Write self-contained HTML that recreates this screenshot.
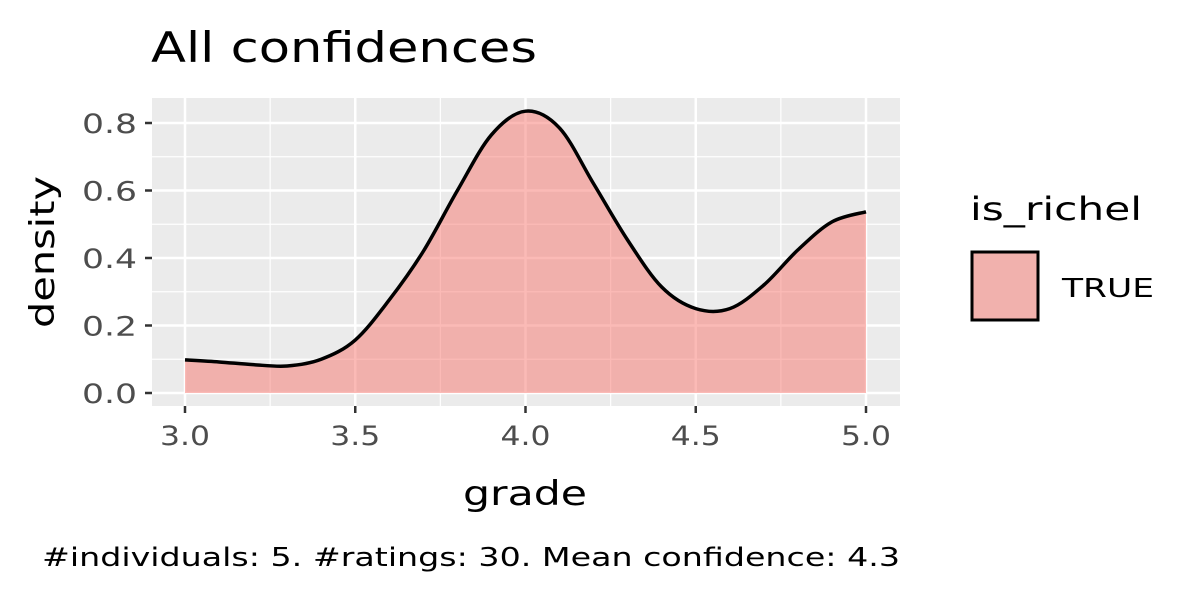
<!DOCTYPE html>
<html><head><meta charset="utf-8"><style>
body{margin:0;background:#fff;width:1200px;height:600px;overflow:hidden;font-family:"DejaVu Sans","Liberation Sans",sans-serif}
svg text{font-family:"DejaVu Sans","Liberation Sans",sans-serif}
</style></head><body>
<svg id="chart" width="1200" height="600" xmlns="http://www.w3.org/2000/svg">
<text x="151" y="62" font-size="42" fill="#000" textLength="386" lengthAdjust="spacingAndGlyphs">All confidences</text>
<rect x="152" y="98" width="748" height="308" fill="#ebebeb"/>
<g id="grid"></g>
<g id="marks"></g>
<g id="axes"></g>
<text x="525" y="505" font-size="34" text-anchor="middle" fill="#000" textLength="124" lengthAdjust="spacingAndGlyphs">grade</text>
<text transform="translate(54,252) rotate(-90)" font-size="34" text-anchor="middle" fill="#000" textLength="152" lengthAdjust="spacingAndGlyphs">density</text>
<text x="970" y="220" font-size="32" fill="#000" textLength="172" lengthAdjust="spacingAndGlyphs">is_richel</text>
<rect x="972" y="252" width="66" height="68" fill="#f1b1ad" stroke="#000" stroke-width="3"/>
<text x="1062" y="297" font-size="26" fill="#000" textLength="92" lengthAdjust="spacingAndGlyphs">TRUE</text>
<text x="42" y="566" font-size="26" fill="#000" textLength="858" lengthAdjust="spacingAndGlyphs">#individuals: 5. #ratings: 30. Mean confidence: 4.3</text>
</svg>
<script>
const xTicks=[3.0,3.5,4.0,4.5,5.0];
const yTicks=[0.0,0.2,0.4,0.6,0.8];
const gradeValues=[3.0,3.1,3.2,3.3,3.4,3.5,3.6,3.7,3.8,3.9,4.0,4.1,4.2,4.3,4.4,4.5,4.6,4.7,4.8,4.9,5.0];
const densityValues=[0.098,0.092,0.084,0.080,0.100,0.157,0.276,0.42,0.60,0.765,0.835,0.785,0.62,0.453,0.314,0.250,0.250,0.320,0.424,0.507,0.537];
const NS="http://www.w3.org/2000/svg";
const X=v=>185+(v-3)*340.5, Y=v=>393-v*337.5;
function el(t,a,p){const e=document.createElementNS(NS,t);for(const k in a)e.setAttribute(k,a[k]);p.appendChild(e);return e;}
const grid=document.getElementById('grid'),marks=document.getElementById('marks'),axes=document.getElementById('axes');
for(let i=0;i<xTicks.length-1;i++){const m=(xTicks[i]+xTicks[i+1])/2;
const g=el('line',{x1:X(m),x2:X(m),y1:98,y2:406,stroke:'#fff','stroke-width':1.2},grid);
}
for(let i=0;i<yTicks.length-1;i++){const m=(yTicks[i]+yTicks[i+1])/2;
const g=el('line',{x1:152,x2:900,y1:Y(m),y2:Y(m),stroke:'#fff','stroke-width':1.2},grid);
}
xTicks.forEach(v=>{const g=el('line',{x1:X(v),x2:X(v),y1:98,y2:406,stroke:'#fff','stroke-width':2.5},grid);

const t=el('line',{x1:X(v),x2:X(v),y1:406,y2:413,stroke:'#333','stroke-width':2.5},axes);

const l=el('text',{x:X(v),y:445,'font-size':27,'text-anchor':'middle',fill:'#4d4d4d',textLength:50,lengthAdjust:'spacingAndGlyphs'},axes);l.textContent=v.toFixed(1);
});
yTicks.forEach(v=>{const g=el('line',{x1:152,x2:900,y1:Y(v),y2:Y(v),stroke:'#fff','stroke-width':2.5},grid);

const t=el('line',{x1:145,x2:152,y1:Y(v),y2:Y(v),stroke:'#333','stroke-width':2.5},axes);

const l=el('text',{x:137,y:Y(v)+10,'font-size':27,'text-anchor':'end',fill:'#4d4d4d',textLength:55,lengthAdjust:'spacingAndGlyphs'},axes);l.textContent=v.toFixed(1);
});
const P=gradeValues.map((g,i)=>[X(g),Y(densityValues[i])]);
let d='M'+P[0][0]+','+P[0][1];
for(let i=0;i<P.length-1;i++){const p0=P[Math.max(0,i-1)],p1=P[i],p2=P[i+1],p3=P[Math.min(P.length-1,i+2)];
const c1=[p1[0]+(p2[0]-p0[0])/6,p1[1]+(p2[1]-p0[1])/6],c2=[p2[0]-(p3[0]-p1[0])/6,p2[1]-(p3[1]-p1[1])/6];
d+=` C${c1[0]},${c1[1]} ${c2[0]},${c2[1]} ${p2[0]},${p2[1]}`;}
const area=el('path',{d:d+` L${X(5)},${Y(0)} L${X(3)},${Y(0)} Z`,fill:'#F8766D','fill-opacity':0.5},marks);

const line=el('path',{d:d,fill:'none',stroke:'#000','stroke-width':3.5},marks);

</script>
</body></html>
